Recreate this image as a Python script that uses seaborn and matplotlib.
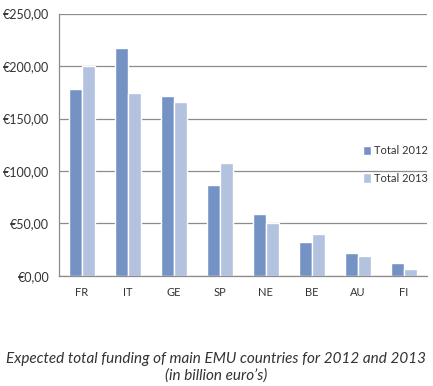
import pandas as pd
from matplotlib import pyplot as plt
import seaborn as sns

countries = ["FR", "IT", "GE", "SP", "NE", "BE", "AU", "FI"]
total_2012 = [178, 217, 171, 87, 59, 32, 22, 12.5]
total_2013 = [200, 174, 166, 108, 50, 40, 19, 6.5]
series = ["Total 2012", "Total 2013"]
colors = ["#7592c4", "#b3c2de"]
yticks = [0, 50, 100, 150, 200, 250]

def funding_chart():
  df = pd.DataFrame({
    "country": countries * 2,
    "value": total_2012 + total_2013,
    "series": [series[0]] * len(countries) + [series[1]] * len(countries),
  })

  sns.set_style("white")
  plt.rcParams['font.family'] = ['Lato', 'DejaVu Sans']

  fig = plt.figure(figsize=(4.33, 3.86), dpi=100)
  ax = fig.add_axes([0.136, 0.285, 0.85, 0.68])
  sns.barplot(data=df, x="country", y="value", hue="series",
              palette=colors, width=0.58, saturation=1, ax=ax)

  ax.set_ylim(0, 250)
  ax.set_yticks(yticks)
  ax.set_yticklabels([f"€{v},00" for v in yticks], fontsize=9, color="#333333")
  ax.set_xlim(-0.5, len(countries) - 0.5)
  ax.set_xlabel("")
  ax.set_ylabel("")
  ax.tick_params(axis="x", length=0, labelsize=8, labelcolor="#333333", pad=8)
  ax.tick_params(axis="y", length=4, color="#8c8c8c", direction="out", pad=3)
  ax.set_xticks([i + 0.5 for i in range(len(countries) - 1)], minor=True)
  ax.tick_params(axis="x", which="minor", length=4, color="#8c8c8c", direction="out")
  ax.grid(axis="y", color="#8c8c8c", linewidth=0.9)
  ax.set_axisbelow(True)
  for side in ["top", "right"]:
    ax.spines[side].set_visible(False)
  for side in ["left", "bottom"]:
    ax.spines[side].set_color("#8c8c8c")
    ax.spines[side].set_linewidth(0.9)

  ax.legend(loc="upper left", bbox_to_anchor=(0.815, 0.515), frameon=False,
            fontsize=8, handlelength=0.7, handleheight=0.9,
            handletextpad=0.3, labelspacing=1.5, borderaxespad=0,
            labelcolor="#333333")

  fig.text(0.5, 0.049, "Expected total funding of main EMU countries for 2012 and 2013\n(in billion euro\u2019s)",
           ha="center", va="center", style="italic", fontsize=11,
           color="#333333", linespacing=1.2)

  fig.savefig("out.png", dpi=100)

if __name__ == "__main__":
  funding_chart()
